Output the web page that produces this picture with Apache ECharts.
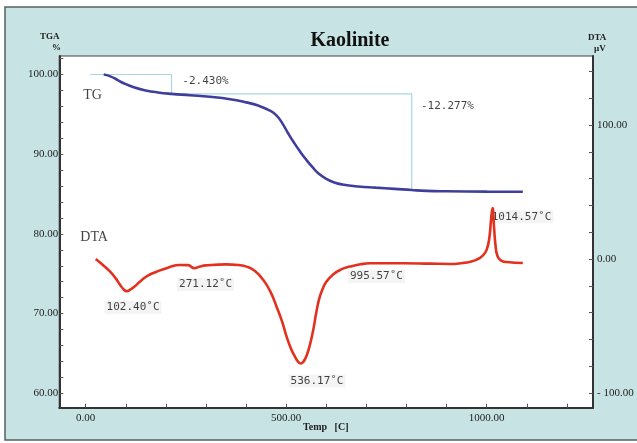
<!DOCTYPE html>
<html>
<head>
<meta charset="utf-8">
<title>Kaolinite TGA / DTA</title>
<script src="https://cdn.jsdelivr.net/npm/echarts@6/dist/echarts.min.js"></script>
<style>
  html, body { margin: 0; padding: 0; background: #ffffff; }
  #chart { width: 637px; height: 443px; }
</style>
</head>
<body>
<div id="chart"></div>
<script>
// Thermogravimetric curve: temperature (°C), mass (%)
const tgCurve = [
  [45, 100.0], [60, 99.8], [80, 99.3], [95, 98.9], [120, 98.4], [150, 98.0],
  [180, 97.75], [214, 97.57], [260, 97.4], [310, 97.2], [360, 96.9], [400, 96.5],
  [430, 96.1], [458, 95.5], [475, 94.9], [490, 93.9], [505, 92.6], [520, 91.4],
  [535, 90.3], [550, 89.3], [565, 88.4], [580, 87.6], [600, 86.9], [620, 86.45],
  [640, 86.2], [680, 85.95], [723, 85.8], [770, 85.65], [813, 85.5], [850, 85.4],
  [900, 85.35], [1000, 85.3], [1090, 85.29]
];

// Differential thermal curve: temperature (°C), signal (µV)
const dtaCurve = [
  [25, 0], [45, -5], [61, -9.5], [75, -14.5], [86, -19.4], [95, -22.8], [102.4, -24],
  [110, -23.1], [122, -20.5], [135, -17], [155, -12.5], [177, -9.5], [205, -6.5],
  [235, -4.5], [255, -4.6], [271.12, -6.9], [285, -5.6], [300, -4.8], [350, -4],
  [380, -4.5], [401, -5.7], [422, -9], [443, -15.7], [460, -24], [476, -35.6],
  [490, -47], [501, -58], [512, -67], [522, -73], [530, -76.8], [536.17, -78],
  [543, -76.6], [551, -72], [560, -63], [568, -52], [575, -40], [582, -30],
  [590, -23], [600, -17], [617, -11.5], [637, -7.8], [659, -5.7], [685, -4], [709, -3.2],
  [792, -3.2], [860, -3.5], [908, -3.7], [940, -3], [960, -2], [975, -0.5],
  [990, 2.5], [1000, 7], [1007, 17], [1011, 30], [1014.57, 38], [1018, 25],
  [1022, 10], [1027, 2], [1035, -1], [1050, -2.3], [1090, -3]
];

// Mass-loss step brackets (°C, %)
const stepFirst = [[11, 100], [214, 100], [214, 97.57]];
const stepTotal = [[214, 97.57], [813, 97.57], [813, 85.5]];

// Text placed on the TGA scale: [°C, %, text]
const massNotes = [[298.8, 99.12, '-2.430%'], [902, 96.05, '-12.277%']];
const curveNames = [[17, 97.43, 'TG'], [21, 79.6, 'DTA']];

// Text placed on the DTA scale: [°C, µV, text]
const peakNotes = [
  [118, -36, '102.40˚C'],
  [298.8, -19, '271.12˚C'],
  [576.8, -91, '536.17˚C'],
  [725, -13, '995.57˚C'],
  [1086.8, 31.5, '1014.57˚C']
];

// Axis ticks and labels
const tempLabels = [0, 500, 1000];
const tempTicks = [0, 100, 200, 300, 400, 500, 600, 700, 800, 900, 1000, 1100, 1200];
const tgaLabels = [60, 70, 80, 90, 100];
const tgaTicks = [58, 60, 62, 64, 66, 68, 70, 72, 74, 76, 78, 80, 82, 84, 86, 88, 90, 92, 94, 96, 98, 100, 102];
const dtaLabels = [-100, 0, 100];
const dtaTicks = [-100, -80, -60, -40, -20, 0, 20, 40, 60, 80, 100, 120, 140];

const axisFont = { fontFamily: 'Liberation Serif', fontSize: 11, color: '#222' };
const noteFont = 'DejaVu Sans Mono';

const chart = echarts.init(document.getElementById('chart'), null, { renderer: 'canvas' });

const noteLabel = (size, family, bg) => ({
  show: true,
  position: 'inside',
  formatter: p => p.data[2],
  fontFamily: family,
  fontSize: size,
  color: '#111',
  backgroundColor: bg,
  padding: bg ? [1, 2] : 0,
  align: 'center',
  verticalAlign: 'middle'
});

chart.setOption({
  animation: false,
  backgroundColor: '#ffffff',
  title: {
    text: 'Kaolinite',
    left: 345,
    top: 26,
    textAlign: 'center',
    textStyle: { fontFamily: 'Liberation Serif', fontWeight: 'bold', fontSize: 20, color: '#111' }
  },
  graphic: [
    {
      type: 'rect', z: -5, silent: true,
      shape: { x: 5, y: 7, width: 640, height: 433 },
      style: { fill: '#c7e3e3', stroke: '#556060', lineWidth: 1.5 }
    },
    { type: 'text', left: 40, top: 32, style: { text: 'TGA', font: 'bold 9px "Liberation Serif"', fill: '#222' } },
    { type: 'text', left: 52, top: 43, style: { text: '%', font: 'bold 9px "Liberation Serif"', fill: '#222' } },
    { type: 'text', left: 588, top: 33, style: { text: 'DTA', font: 'bold 9px "Liberation Serif"', fill: '#222' } },
    { type: 'text', left: 594, top: 44, style: { text: 'µV', font: 'bold 9px "Liberation Serif"', fill: '#222' } },
    { type: 'text', left: 303, top: 422, style: { text: 'Temp   [C]', font: 'bold 10px "Liberation Serif"', fill: '#222' } }
  ],
  grid: {
    left: 59.3, right: 44, top: 56, bottom: 35.3,
    show: true, backgroundColor: '#ffffff', borderColor: '#444', borderWidth: 1.2
  },
  xAxis: {
    type: 'value', min: -65.8, max: 1265,
    axisLine: { show: true, onZero: false, lineStyle: { color: '#333', width: 2 } },
    axisTick: { show: true, inside: true, length: 4, customValues: tempTicks, lineStyle: { color: '#555' } },
    axisLabel: Object.assign({ customValues: tempLabels, margin: 5, formatter: v => v.toFixed(2) }, axisFont),
    splitLine: { show: false }
  },
  yAxis: [
    {
      type: 'value', min: 58.19, max: 102.32, position: 'left',
      axisLine: { show: true, onZero: false, lineStyle: { color: '#333', width: 2 } },
      axisTick: { show: true, inside: true, length: 4, customValues: tgaTicks, lineStyle: { color: '#555' } },
      axisLabel: Object.assign({ customValues: tgaLabels, margin: 1, formatter: v => v.toFixed(2) }, axisFont),
      splitLine: { show: false }
    },
    {
      type: 'value', min: -111, max: 151.5, position: 'right',
      axisLine: { show: true, onZero: false, lineStyle: { color: '#333', width: 2 } },
      axisTick: { show: true, inside: true, length: 4, customValues: dtaTicks, lineStyle: { color: '#555' } },
      axisLabel: Object.assign({ customValues: dtaLabels, margin: 4,
        formatter: v => (v < 0 ? '- ' + Math.abs(v).toFixed(2) : v.toFixed(2)) }, axisFont),
      splitLine: { show: false }
    }
  ],
  series: [
    {
      name: 'step-first', type: 'line', yAxisIndex: 0, data: stepFirst,
      symbol: 'none', silent: true, lineStyle: { color: '#a9d6df', width: 1.2 }
    },
    {
      name: 'step-total', type: 'line', yAxisIndex: 0, data: stepTotal,
      symbol: 'none', silent: true, lineStyle: { color: '#a9d6df', width: 1.2 }
    },
    {
      name: 'TG', type: 'line', yAxisIndex: 0, data: tgCurve,
      symbol: 'none', smooth: 0.5,
      lineStyle: { color: '#3f3f9b', width: 2.6 }
    },
    {
      name: 'DTA', type: 'line', yAxisIndex: 1, data: dtaCurve,
      symbol: 'none', smooth: 0.5,
      lineStyle: { color: '#e2321f', width: 2.6 }
    },
    {
      name: 'mass-notes', type: 'scatter', yAxisIndex: 0, data: massNotes,
      symbolSize: 0, silent: true, label: noteLabel(11, noteFont, null)
    },
    {
      name: 'curve-names', type: 'scatter', yAxisIndex: 0, data: curveNames,
      symbolSize: 0, silent: true, label: noteLabel(14, 'Liberation Serif', null)
    },
    {
      name: 'peak-notes', type: 'scatter', yAxisIndex: 1, data: peakNotes,
      symbolSize: 0, silent: true, label: noteLabel(11, noteFont, '#f1f1f1')
    }
  ]
});
</script>
</body>
</html>
